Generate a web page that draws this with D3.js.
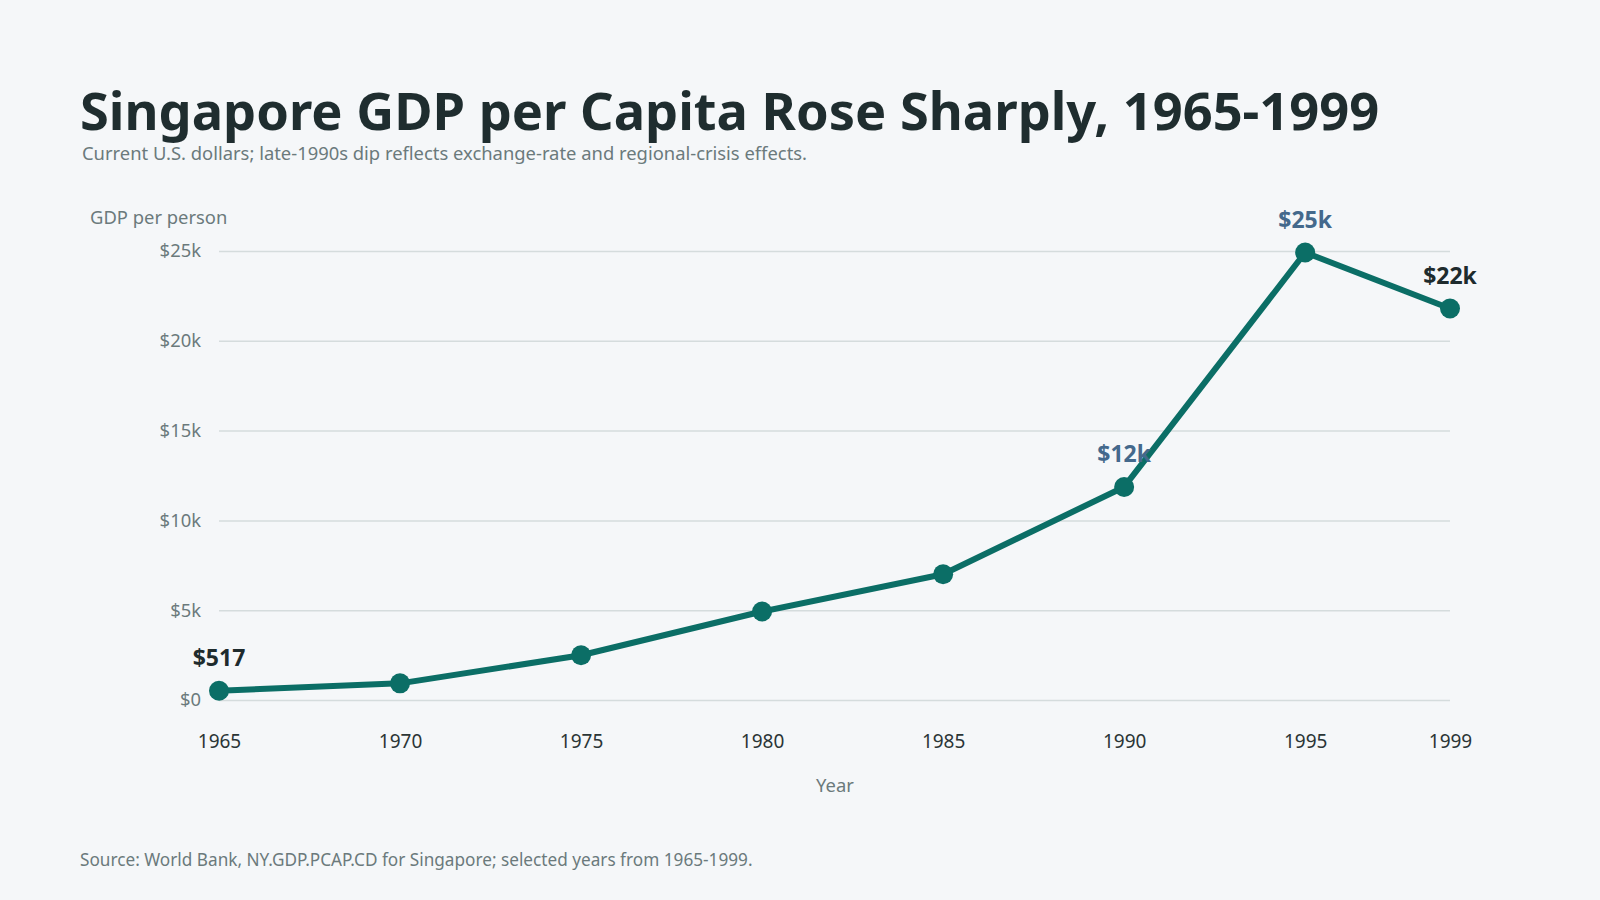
<!DOCTYPE html>
<html>
<head>
<meta charset="utf-8">
<script src="https://cdn.jsdelivr.net/npm/d3@7"></script>
<style>
  html, body { margin: 0; padding: 0; background: #f5f7f9; }
  svg { display: block; font-family: "Noto Sans", "Open Sans", sans-serif; }
</style>
</head>
<body>
<svg id="chart" width="1600" height="900"></svg>
<script>
const years = [1965, 1970, 1975, 1980, 1985, 1990, 1995, 1999];
const gdp = [517, 926, 2490, 4928, 7002, 11862, 24915, 21796];
const yTicks = [0, 5000, 10000, 15000, 20000, 25000];
const yTickLabels = ["$0", "$5k", "$10k", "$15k", "$20k", "$25k"];
const labelYears = [1965, 1990, 1995, 1999];
const labelTexts = ["$517", "$12k", "$25k", "$22k"];
const labelKinds = ["dark", "blue", "blue", "dark"];

const svg = d3.select("#chart");
const W = 1600, H = 900;

svg.append("rect").attr("width", W).attr("height", H).attr("fill", "#f5f7f9");

const x = d3.scaleLinear().domain([1965, 1999]).range([219, 1450]);
const y = d3.scaleLinear().domain([0, 25000]).range([700, 251]);

// Title
svg.append("text").attr("x", 80).attr("y", 130)
  .attr("font-size", 52.4).attr("font-weight", 700).attr("fill", "#1f2d2f")
  .text("Singapore GDP per Capita Rose Sharply, 1965-1999");
svg.append("text").attr("x", 82).attr("y", 160)
  .attr("font-size", 18.4).attr("fill", "#6b7a7c")
  .text("Current U.S. dollars; late-1990s dip reflects exchange-rate and regional-crisis effects.");

// y axis label
svg.append("text").attr("x", 90).attr("y", 224)
  .attr("font-size", 18.4).attr("fill", "#6b7a7c").text("GDP per person");

// Grid + y axis
const yAxis = d3.axisLeft(y).tickValues(yTicks)
  .tickFormat((d, i) => yTickLabels[i])
  .tickSize(-(1450 - 219)).tickPadding(18);
const gy = svg.append("g").attr("transform", "translate(219,0)").call(yAxis);
gy.select(".domain").remove();
gy.selectAll(".tick line").attr("stroke", "#d5dcdd").attr("stroke-width", 1.5);
gy.selectAll(".tick text").attr("font-size", 18.4).attr("fill", "#6b7a7c")
  .attr("font-family", "Noto Sans, sans-serif");

// x axis
const xAxis = d3.axisBottom(x).tickValues(years).tickFormat(d3.format("d"))
  .tickSize(0).tickPadding(0);
const gx = svg.append("g").attr("transform", "translate(0,734)").call(xAxis);
gx.select(".domain").remove();
gx.selectAll(".tick text").attr("font-size", 19).attr("fill", "#2b3536")
  .attr("font-family", "Noto Sans, sans-serif").attr("dy", "0.71em");

svg.append("text").attr("x", 835).attr("y", 792).attr("text-anchor", "middle")
  .attr("font-size", 18.4).attr("fill", "#6b7a7c").text("Year");

// Line
const data = years.map((yr, i) => ({ year: yr, value: gdp[i] }));
const line = d3.line().x(d => x(d.year)).y(d => y(d.value));
svg.append("path").datum(data).attr("d", line)
  .attr("fill", "none").attr("stroke", "#0b6e66").attr("stroke-width", 6)
  .attr("stroke-linejoin", "round").attr("stroke-linecap", "round");

svg.selectAll("circle.pt").data(data).join("circle").attr("class", "pt")
  .attr("cx", d => x(d.year)).attr("cy", d => y(d.value)).attr("r", 10)
  .attr("fill", "#0b6e66");

// Labels
labelYears.forEach((yr, i) => {
  const v = gdp[years.indexOf(yr)];
  svg.append("text").attr("x", x(yr)).attr("y", y(v) - 25)
    .attr("text-anchor", "middle").attr("font-size", 23).attr("font-weight", 700)
    .attr("fill", labelKinds[i] === "blue" ? "#44698c" : "#1e2b2d")
    .text(labelTexts[i]);
});

// Source
svg.append("text").attr("x", 80).attr("y", 866)
  .attr("font-size", 17.2).attr("fill", "#6b7a7c")
  .text("Source: World Bank, NY.GDP.PCAP.CD for Singapore; selected years from 1965-1999.");
</script>
</body>
</html>
